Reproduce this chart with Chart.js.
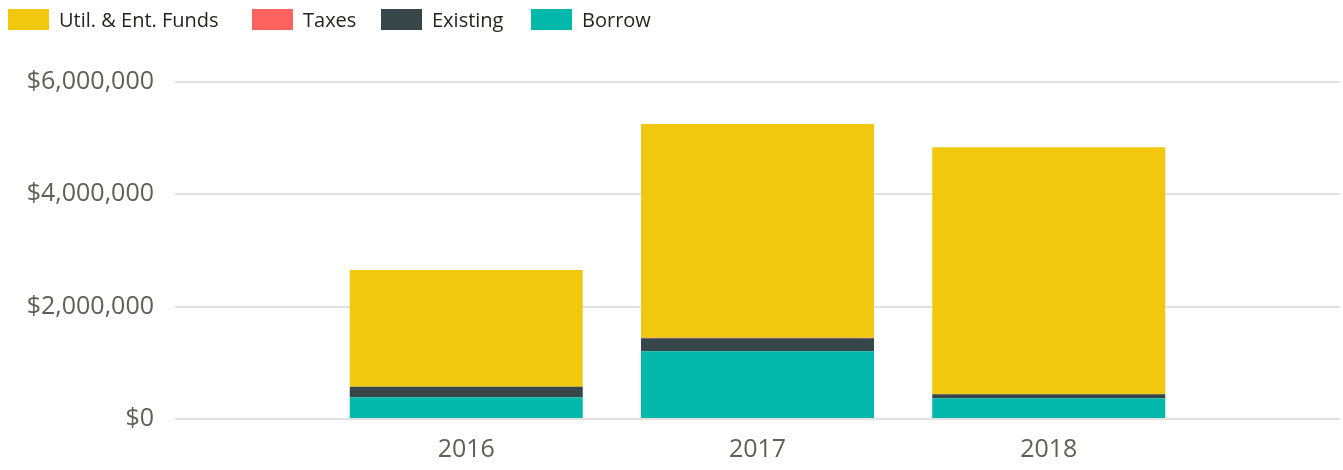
<!DOCTYPE html>
<html>
<head>
<meta charset="utf-8">
<script src="https://cdn.jsdelivr.net/npm/chart.js@4/dist/chart.umd.min.js"></script>
<style>
  html, body { margin: 0; padding: 0; background: #ffffff; }
  #wrap { position: relative; width: 1343px; height: 470px; }
  #legend {
    position: absolute; left: 0; top: 9px; width: 1343px; height: 21px;
    font-family: "Open Sans", sans-serif; font-size: 20px; line-height: 21px; color: #252423;
  }
  #legend .item { position: absolute; top: 0; display: flex; align-items: center; height: 21px; white-space: nowrap; }
  #legend .box { width: 41px; height: 21px; margin-right: 10px; flex: none; }
  canvas { position: absolute; left: 0; top: 0; }
</style>
</head>
<body>
<div id="wrap">
  <canvas id="c" width="1343" height="470"></canvas>
  <div id="legend"></div>
</div>
<script>
// Fiscal years (blank slots pad the axis on each side)
const years = ['', '2016', '2017', '2018', ''];

// Funding sources, in dollars
const borrow   = [null,  386000, 1205000,  368000, null];
const existing = [null,  189000,  232000,   72000, null];
const taxes    = [null,       0,   10000,       0, null];
const utilEnt  = [null, 2078000, 3805000, 4397000, null];

// Y axis tick values
const yTicks = [0, 2000000, 4000000, 6000000];

const seriesNames  = ['Util. & Ent. Funds', 'Taxes', 'Existing', 'Borrow'];
const seriesColors = ['#F2C80F', '#FD625E', '#374649', '#01B8AA'];

// Legend row: left edge of each entry
const legendLeft = [8, 252, 381, 531];
const legendEl = document.getElementById('legend');
seriesNames.forEach((name, i) => {
  const item = document.createElement('div');
  item.className = 'item';
  item.style.left = legendLeft[i] + 'px';
  const box = document.createElement('span');
  box.className = 'box';
  box.style.background = seriesColors[i];
  const txt = document.createElement('span');
  txt.textContent = name;
  item.appendChild(box);
  item.appendChild(txt);
  legendEl.appendChild(item);
});

const colorOf = name => seriesColors[seriesNames.indexOf(name)];

// Stacked bottom-up: Borrow, Existing, Taxes, Util. & Ent. Funds
const datasets = [
  { label: 'Borrow', data: borrow },
  { label: 'Existing', data: existing },
  { label: 'Taxes', data: taxes },
  { label: 'Util. & Ent. Funds', data: utilEnt }
].map(d => Object.assign(d, {
  backgroundColor: colorOf(d.label),
  borderWidth: 0,
  categoryPercentage: 1.0,
  barPercentage: 0.8
}));

const tickFont = { family: '"Open Sans", sans-serif', size: 25 };

new Chart(document.getElementById('c'), {
  type: 'bar',
  data: { labels: years, datasets },
  options: {
    responsive: false,
    animation: false,
    layout: { padding: { top: 82, right: 3, left: 0, bottom: 0 } },
    plugins: { legend: { display: false }, tooltip: { enabled: false } },
    scales: {
      x: {
        stacked: true,
        offset: false,
        // tick marks are not drawn (grid hidden) but their length spaces the labels
        grid: { display: false, drawTicks: true, tickLength: 16 },
        border: { display: false },
        ticks: { font: tickFont, color: '#605E5C', padding: 0, maxRotation: 0, autoSkip: false },
        afterFit: s => { s.height = 51; }
      },
      y: {
        stacked: true,
        min: yTicks[0],
        max: yTicks[yTicks.length - 1],
        afterBuildTicks: s => { s.ticks = yTicks.map(v => ({ value: v })); },
        grid: { color: '#E1E1E1', lineWidth: 2, drawTicks: false },
        border: { display: false },
        ticks: {
          font: tickFont, color: '#605E5C', padding: 21,
          callback: v => '$' + Number(v).toLocaleString('en-US')
        },
        afterFit: s => { s.width = 175; }
      }
    }
  }
});
</script>
</body>
</html>
